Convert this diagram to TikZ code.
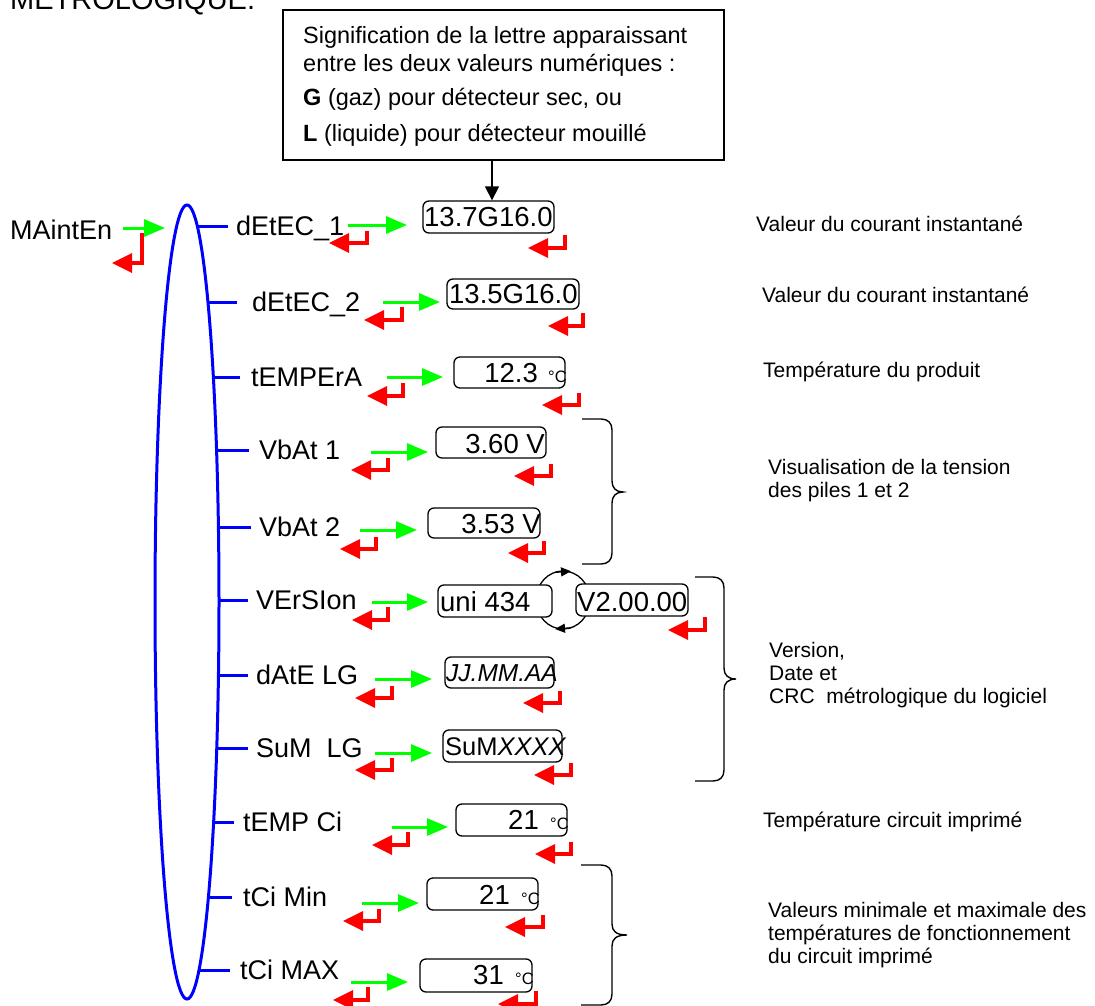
\documentclass[tikz,border=0pt]{standalone}
\usepackage{fontspec}
\setmainfont{Liberation Sans}
\usetikzlibrary{arrows.meta}
\definecolor{vgreen}{RGB}{0,255,0}
\definecolor{vred}{RGB}{255,0,0}
\definecolor{vblue}{RGB}{0,0,255}
\newcommand\retarrow[4]{\draw[rarr] (#1,#2) |- (#3,#4);}
\newcommand\gtarrow[3]{\draw[garr] (#1,#3) -- (#2,#3);}
\newcommand\rbr[6]{%
\draw[bracestyle] (#1,#4) -- (#2-11,#4) .. controls (#2-4,#4) and (#2,#4+4) .. (#2,#4+11) -- (#2,#5-11) .. controls (#2,#5-4) and (#2+4,#5) .. (#3,#5) .. controls (#2+4,#5) and (#2,#5+4) .. (#2,#5+11) -- (#2,#6-11) .. controls (#2,#6-4) and (#2-4,#6) .. (#2-11,#6) -- (#1,#6);}
\begin{document}
\begin{tikzpicture}[x=1pt,y=-1pt,
  lab/.style={anchor=west, inner sep=0pt, font=\fontsize{27}{31}\selectfont, text height=19pt, text depth=0pt},
  desc/.style={anchor=west, inner sep=0pt, font=\fontsize{21}{23}\selectfont, align=left},
  tb/.style={anchor=base west, inner sep=0pt, font=\fontsize{23.5}{27}\selectfont},
  vbox/.style={draw, line width=1.3pt, rounded corners=6pt, fill=white, inner sep=0pt},
  vt/.style={inner sep=0pt, font=\fontsize{27.5}{31}\selectfont},
  deg/.style={inner sep=0pt, font=\fontsize{16.5}{19}\selectfont, anchor=base west},
  garr/.style={draw=vgreen, line width=3pt, -{Triangle[length=21pt,width=17pt]}},
  rarr/.style={draw=vred, line width=3.5pt, -{Triangle[length=20pt,width=19pt]}},
  bline/.style={draw=vblue, line width=3pt},
  bracestyle/.style={draw, line width=1.4pt},
  darr/.style={draw, line width=1.3pt, -{Triangle[length=14pt,width=14pt]}}
]
\fill[white] (0,0) rectangle (1095,1006);
\useasboundingbox (0,0) rectangle (1095,1006);

% title (cut off at the top edge, as in the reference)
\node[anchor=base west, inner sep=0pt, font=\fontsize{29}{33}\selectfont] (title) at (10,10) {MÉTROLOGIQUE.};

% top explanation box
\node[draw, line width=1.3pt, minimum width=441pt, minimum height=150pt, inner sep=0pt] (topbox) at (503.5,85) {};
\node[tb] (t1) at (303,44) {Signification de la lettre apparaissant};
\node[tb] (t2) at (303,72) {entre les deux valeurs numériques :};
\node[tb] (t3) at (303,106) {\textbf{G} (gaz) pour détecteur sec, ou};
\node[tb] (t4) at (303,142) {\textbf{L} (liquide) pour détecteur mouillé};

% ellipse
\draw[vblue, line width=3pt] (187,602) ellipse [x radius=32pt, y radius=397pt];

% MAintEn
\node[lab] (m) at (10,230) {MAintEn};
\gtarrow{123}{165}{228}
\retarrow{142}{233}{112}{263}

% labels
\node[lab] (l1) at (236,226) {dEtEC\_1};
\node[lab] (l2) at (252,302) {dEtEC\_2};
\node[lab] (l3) at (251,377) {tEMPErA};
\node[lab] (l4) at (259,450) {VbAt 1};
\node[lab] (l5) at (259,527) {VbAt 2};
\node[lab] (l6) at (256,600) {VErSIon};
\node[lab] (l7) at (256,675) {dAtE LG};
\node[lab] (l8) at (256,748) {SuM\ \ LG};
\node[lab] (l9) at (243,822) {tEMP Ci};
\node[lab] (l10) at (243,897) {tCi Min};
\node[lab] (l11) at (240,970) {tCi MAX};

% blue branches
\draw[bline] (197.3,226) -- ([xshift=-8pt]l1.west);
\draw[bline] (208,302) -- ([xshift=-15pt]l2.west);
\draw[bline] (213.4,377) -- ([xshift=-11pt]l3.west);
\draw[bline] (216.6,450) -- ([xshift=-10pt]l4.west);
\draw[bline] (218.4,527) -- ([xshift=-8pt]l5.west);
\draw[bline] (219,600) -- ([xshift=-8pt]l6.west);
\draw[bline] (218.4,675) -- ([xshift=-8pt]l7.west);
\draw[bline] (216.8,748) -- ([xshift=-8pt]l8.west);
\draw[bline] (213.6,822) -- ([xshift=-9pt]l9.west);
\draw[bline] (208.4,897) -- ([xshift=-11pt]l10.west);
\draw[bline] (199,970) -- ([xshift=-10pt]l11.west);

% version cycle circle (behind boxes)
\draw[line width=1.3pt] (563,600) ellipse [x radius=27pt, y radius=29pt];
\draw[line width=1.3pt, -{Triangle[length=10pt,width=9pt]}] (555,572.3) -- (571,571.2);
\draw[line width=1.3pt, -{Triangle[length=10pt,width=9pt]}] (571,627.8) -- (555,629);

% value boxes
\node[vbox, minimum width=131pt, minimum height=32pt] (b1) at (488.5,217) {};
\node[vbox, minimum width=132pt, minimum height=30pt] (b2) at (513,294) {};
\node[vbox, minimum width=111pt, minimum height=31pt] (b3) at (509.5,372.5) {};
\node[vbox, minimum width=110pt, minimum height=31pt] (b4) at (491,442.5) {};
\node[vbox, minimum width=112pt, minimum height=30pt] (b5) at (484,523) {};
\node[vbox, minimum width=114pt, minimum height=32pt] (b6a) at (495,601) {};
\node[vbox, minimum width=112pt, minimum height=32pt] (b6b) at (632,600) {};
\node[vbox, minimum width=109pt, minimum height=31pt] (b7) at (499.5,672.5) {};
\node[vbox, minimum width=119pt, minimum height=32pt] (b8) at (502.5,746) {};
\node[vbox, minimum width=111pt, minimum height=32pt] (b9) at (511.5,820) {};
\node[vbox, minimum width=111pt, minimum height=32pt] (b10) at (482.5,894) {};
\node[vbox, minimum width=112pt, minimum height=33pt] (b11) at (476,975.5) {};

% value texts
\node[vt, anchor=base west] (v1) at (424,226) {13.7G16.0};
\node[vt, anchor=base west] (v2) at (449,303) {13.5G16.0};
\node[vt, anchor=base east] (v3) at (538,382) {12.3};
\node[deg] (c3) at (548,382) {°C};
\node[vt, anchor=base east] (v4) at (545,453) {3.60 V};
\node[vt, anchor=base east] (v5) at (541,533) {3.53 V};
\node[vt, anchor=base west] (v6a) at (440,611) {uni 434};
\node[vt, anchor=base west] (v6b) at (577,611) {V2.00.00};
\node[vt, anchor=base west, font=\fontsize{24.5}{28}\selectfont\itshape] (v7) at (446,681) {JJ.MM.AA};
\node[vt, anchor=base west, font=\fontsize{25.5}{29}\selectfont] (v8) at (445,755) {SuM\textit{XXXX}};
\node[vt, anchor=base east] (v9) at (539,829) {21};
\node[deg] (c9) at (550,829) {°C};
\node[vt, anchor=base east] (v10) at (510,904) {21};
\node[deg] (c10) at (521,904) {°C};
\node[vt, anchor=base east] (v11) at (504,984) {31};
\node[deg] (c11) at (515,984) {°C};

% arrow from explanation box
\coordinate (ax) at (492,0);
\draw[darr] (ax |- topbox.south) -- (ax |- b1.north);

% green arrows
\gtarrow{348}{407}{225}
\gtarrow{383}{440}{302}
\gtarrow{387}{443}{377}
\gtarrow{371}{428}{452}
\gtarrow{360}{417}{530}
\gtarrow{372}{428}{602}
\gtarrow{375}{432}{679}
\gtarrow{375}{432}{753}
\gtarrow{392}{448}{827}
\gtarrow{362}{419}{903}
\gtarrow{351}{408}{982}

% red return arrows
\retarrow{367}{231}{329}{243}
\retarrow{565}{235}{528}{248}
\retarrow{402}{307}{364}{320}
\retarrow{583}{313}{548}{326}
\retarrow{403}{383}{367}{396}
\retarrow{579}{393}{542}{405}
\retarrow{388}{458}{351}{470}
\retarrow{551}{464}{514}{476}
\retarrow{376}{537}{340}{549}
\retarrow{544}{541}{508}{553}
\retarrow{388}{607}{352}{620}
\retarrow{705}{617}{668}{630}
\retarrow{392}{686}{355}{698}
\retarrow{560}{691}{523}{703}
\retarrow{392}{758}{355}{770}
\retarrow{571}{763}{534}{775}
\retarrow{408}{832}{372}{845}
\retarrow{571}{842}{535}{854}
\retarrow{379}{909}{343}{921}
\retarrow{543}{915}{505}{927}
\retarrow{368}{987}{333}{1000}
\retarrow{536}{991}{498}{1004}

% braces
\rbr{582}{612}{623}{419}{492}{564}
\rbr{695}{724}{736}{577}{679}{781}
\rbr{581}{612}{627}{865}{935}{1005}

% descriptions
\node[desc] (d1) at (756,224) {Valeur du courant instantané};
\node[desc] (d2) at (762,295) {Valeur du courant instantané};
\node[desc] (d3) at (763,372) {Température du produit};
\node[desc] (d4) at (768,481) {Visualisation de la tension\\des piles 1 et 2};
\node[desc] (d5) at (769,675) {Version,\\Date et\\CRC\ \ métrologique du logiciel};
\node[desc] (d6) at (763,822) {Température circuit imprimé};
\node[desc] (d7) at (768,935) {Valeurs minimale et maximale des\\températures de fonctionnement\\du circuit imprimé};
\end{tikzpicture}
\end{document}
